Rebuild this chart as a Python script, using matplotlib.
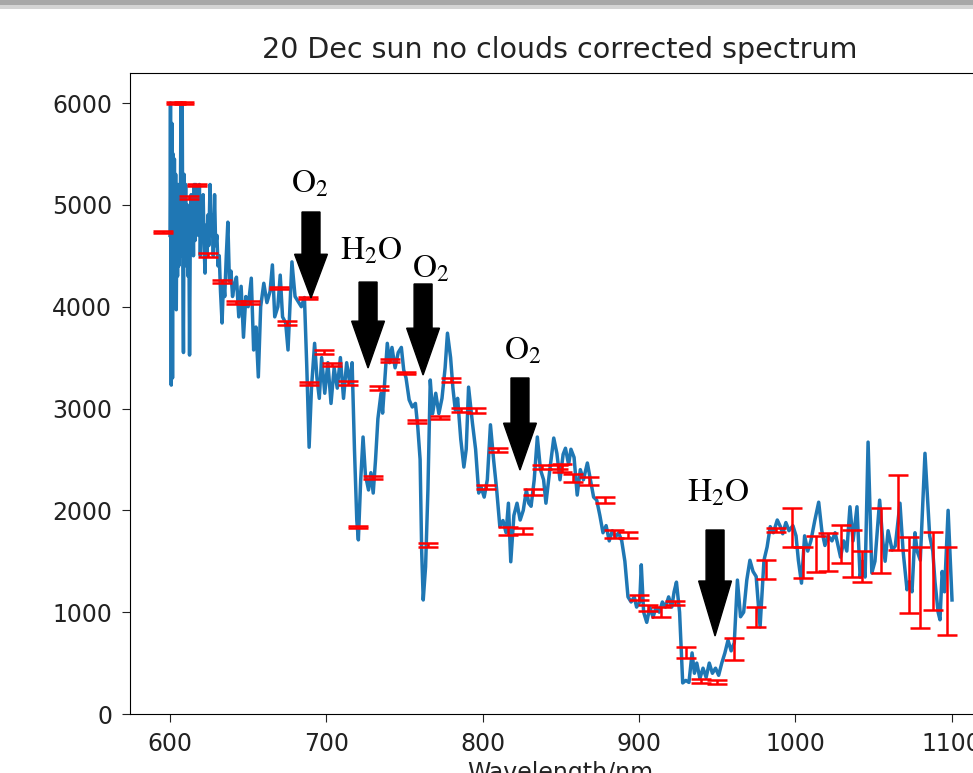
import matplotlib
matplotlib.use('Agg')
import matplotlib.pyplot as plt
from matplotlib.patches import Rectangle

plt.rcParams['mathtext.fontset'] = 'stix'

# ---- spectrum (wavelength in nm, corrected intensity) ----
wavelength = [
    600.0, 600.3, 600.8, 601.2, 601.6, 602.0, 602.4, 602.8, 603.2, 603.6, 604.0, 604.4,
    604.8, 605.2, 605.6, 606.0, 606.5, 607.0, 607.4, 607.8, 608.2, 608.6, 609.0, 609.5,
    610.0, 610.5, 611.0, 611.5, 612.0, 612.5, 613.0, 613.5, 614.0, 614.5, 615.0, 615.5,
    616.0, 616.5, 617.0, 617.6, 618.2, 618.8, 619.4, 620.0, 620.6, 621.2, 621.8, 622.4,
    623.0, 623.6, 624.2, 624.8, 625.6, 626.3, 627.0, 627.7, 628.5, 629.2, 630.0, 630.7,
    631.5, 632.3, 633.3, 634.2, 635.0, 636.0, 637.0, 638.0, 639.0, 640.0, 641.0, 642.5,
    644.0, 645.5, 647.0, 648.5, 650.0, 652.0, 653.5, 655.0, 656.5, 658.0, 660.0, 662.0,
    664.0, 665.5, 667.0, 669.0, 670.5, 672.0, 674.0, 675.5, 677.0, 678.0, 680.0, 682.0,
    684.0, 686.0, 687.5, 689.0, 690.5, 692.5, 694.0, 695.5, 697.0, 699.0, 701.0, 703.0,
    705.0, 707.0, 709.0, 711.0, 713.0, 715.0, 716.5, 718.0, 719.5, 720.5, 722.0, 723.5,
    725.0, 727.0, 728.5, 730.0, 731.5, 733.0, 735.0, 736.0, 737.5, 739.0, 740.5, 742.0,
    744.0, 746.0, 748.0, 749.5, 751.0, 753.0, 755.0, 757.0, 758.5, 760.0, 761.0, 762.0,
    763.5, 765.0, 766.5, 768.0, 770.0, 772.0, 774.0, 776.0, 777.5, 779.5, 781.0, 782.5,
    784.0, 786.0, 788.0, 789.5, 791.0, 793.5, 795.5, 797.5, 799.0, 801.0, 803.0, 805.0,
    807.0, 809.0, 811.0, 813.0, 815.0, 816.5, 818.0, 820.0, 822.0, 824.0, 826.0, 828.0,
    829.5, 831.0, 833.0, 835.0, 837.0, 839.0, 840.5, 843.0, 845.5, 847.5, 849.5, 851.5,
    853.0, 855.0, 856.5, 858.5, 860.5, 862.5, 864.5, 867.0, 869.0, 871.0, 873.0, 875.0,
    877.0, 879.0, 881.0, 883.0, 885.0, 887.0, 889.0, 891.0, 893.0, 895.0, 897.0, 898.5,
    900.5, 901.5, 903.0, 905.0, 907.0, 909.0, 911.0, 913.0, 915.0, 917.0, 919.0, 921.0,
    922.5, 924.0, 926.0, 928.0, 930.0, 932.0, 934.0, 935.5, 937.0, 939.0, 941.0, 943.0,
    945.0, 947.0, 949.0, 951.0, 953.0, 955.0, 957.0, 959.0, 961.0, 963.0, 965.0, 967.0,
    969.0, 971.0, 973.0, 975.0, 977.5, 980.0, 982.0, 984.0, 986.0, 988.5, 990.5, 992.0,
    994.0, 996.0, 998.5, 1000.5, 1002.0, 1004.0, 1006.0, 1008.0, 1010.0, 1012.5, 1015.0,
    1017.0, 1019.0, 1021.0, 1023.5, 1025.5, 1027.0, 1029.0, 1031.0, 1033.0, 1035.0, 1037.0,
    1039.5, 1041.5, 1043.0, 1044.7, 1046.6, 1049.0, 1051.0, 1054.0, 1056.0, 1057.5, 1059.4,
    1062.0, 1064.0, 1067.0, 1069.0, 1071.5, 1073.0, 1074.7, 1076.6, 1078.0, 1080.0, 1083.0,
    1086.0, 1088.0, 1089.4, 1091.4, 1092.6, 1094.0, 1095.5, 1097.8, 1100.3,
]
intensity = [
    4700, 6000, 3230, 5800, 3300, 5500, 4000, 5450, 4200, 5300, 3970, 5000,
    4300, 5200, 4400, 5100, 4600, 6000, 4500, 6000, 4400, 3550, 5300, 4700,
    5200, 4400, 5000, 4300, 4900, 3525, 4800, 5100, 4600, 5000, 4500, 5200,
    4650, 5200, 4800, 5150, 4700, 5200, 4500, 5000, 4700, 5100, 4600, 4330,
    4800, 4500, 4900, 4600, 5200, 4700, 4900, 4500, 5100, 4600, 4700, 4400,
    4500, 4150, 3840, 4250, 4100, 4500, 4830, 4250, 4350, 4100, 4200, 4290,
    3900, 4200, 3700, 4100, 4000, 4280, 3575, 3800, 3310, 4000, 4230, 4040,
    4150, 4410, 3900, 4000, 4310, 3900, 3840, 3575, 4100, 4440, 4100, 4050,
    4000, 4090, 3410, 2620, 3200, 3640, 3300, 3100, 3500, 3150, 3450, 3050,
    3400, 3200, 3500, 3100, 3450, 3250, 3450, 2600, 1900, 1710, 2300, 2720,
    2350, 2200, 2370, 2170, 2500, 2900, 3150, 2955, 3300, 3640, 3450, 3600,
    3400, 3550, 3600, 3380, 3300, 3085, 3015, 3050, 2820, 2500, 1600, 1120,
    1445, 2200, 3280, 2950, 3150, 2950, 3100, 3400, 3740, 3500, 3200, 2985,
    3100, 2700, 2425, 2600, 3210, 2855, 2600, 2170, 2230, 2130, 2300, 2840,
    2500, 2200, 1840, 1900, 1780, 2070, 1495, 1950, 2070, 1905, 2000, 2200,
    2070, 2040, 2300, 2720, 2400, 2300, 2070, 2400, 2710, 2560, 2300, 2550,
    2610, 2450, 2600, 2520, 2150, 2400, 2300, 2465, 2300, 2130, 2100, 1950,
    1780, 1850, 1700, 1800, 1740, 1780, 1700, 1500, 1150, 1100, 1150, 1050,
    1100, 1465, 1000, 900, 1050, 950, 1050, 1000, 1100, 1050, 1150, 1050,
    1200, 1295, 1000, 305, 330, 310, 600, 400, 500, 350, 450, 360,
    500, 400, 450, 380, 500, 600, 725, 620, 700, 1315, 955, 1000,
    1315, 1510, 1400, 1350, 855, 1510, 1640, 1840, 1780, 1905, 1840, 1770,
    1880, 1800, 1850, 1750, 1510, 1285, 1750, 1600, 1700, 1900, 2080,
    1800, 1655, 1750, 1700, 1780, 1680, 1540, 1700, 1600, 2035, 1700,
    2035, 1345, 1500, 1345, 2670, 1385, 1500, 2100, 1700, 1500, 1800,
    1610, 1650, 2070, 1600, 1220, 1300, 1200, 1780, 1600, 1510, 2560,
    1750, 1600, 1300, 1000, 925, 1400, 1200, 2000, 1120,
]

# ---- binned means with error bars ----
err_x = [595.5, 604, 609, 612, 617, 624, 633, 642, 651, 670, 675, 688, 689,
         698.5, 703.6, 714, 720, 730, 734, 741, 751, 758, 765, 773, 780, 786,
         796, 802, 810, 816, 826, 832, 838, 848, 851, 858, 868, 878, 884, 893,
         900, 906, 914, 923, 930, 940, 950, 961, 975, 981, 988, 998, 1005, 1013,
         1021, 1029, 1036, 1043, 1055, 1066, 1073, 1080, 1088, 1097]
err_y = [4730, 6000, 6000, 5070, 5195, 4510, 4250, 4045, 4045, 4180, 3840, 4085, 3250,
         3555, 3430, 3250, 1840, 2320, 3200, 3475, 3350, 2870, 1660, 2915, 3280, 2985,
         2985, 2230, 2590, 1800, 1800, 2180, 2430, 2430, 2420, 2320, 2290, 2100, 1770, 1760,
         1140, 1040, 1000, 1090, 605, 320, 310, 640, 950, 1420, 1810, 1830, 1490, 1570,
         1590, 1670, 1575, 1450, 1700, 1980, 1365, 1240, 1405, 1210]
err_size = [10, 10, 10, 15, 10, 20, 15, 15, 15, 10, 15, 10, 15,
            20, 15, 20, 10, 15, 20, 15, 10, 15, 20, 15, 20, 20,
            25, 20, 20, 40, 30, 30, 20, 20, 40, 40, 40, 30, 40, 30,
            25, 30, 50, 20, 55, 20, 20, 105, 100, 90, 20, 190, 150, 175,
            190, 190, 230, 150, 320, 370, 375, 400, 385, 430]

# ---- annotations ----
labels = [r'$\mathrm{O}_2$', r'$\mathrm{H}_2\mathrm{O}$', r'$\mathrm{O}_2$',
          r'$\mathrm{O}_2$', r'$\mathrm{H}_2\mathrm{O}$']
label_x = [689.6, 728.6, 767.0, 825.8, 950.6]
label_y = [5214, 4556, 4380, 3574, 2180]
arrow_x = [690.2, 726.7, 761.9, 823.9, 948.7]
arrow_top = [4930, 4242, 4223, 3300, 1807]
arrow_tip = [4085, 3398, 3329, 2396, 766]
arrow_head = [430, 460, 460, 460, 540]

xticks = [600, 700, 800, 900, 1000, 1100]
yticks = [0, 1000, 2000, 3000, 4000, 5000, 6000]

fig = plt.figure(figsize=(9.73, 7.73), dpi=100)
ax = fig.add_axes([130 / 973, 59 / 773, 860 / 973, 641 / 773])

ax.plot(wavelength, intensity, color='#1f77b4', lw=2.5)
ax.errorbar(err_x, err_y, yerr=err_size, fmt='none', ecolor='red',
            elinewidth=1.8, capsize=7, capthick=1.8)

for x, top, tip, hl in zip(arrow_x, arrow_top, arrow_tip, arrow_head):
    ax.arrow(x, top, 0, tip - top, width=11.5, head_width=21, head_length=hl,
             length_includes_head=True, color='black', zorder=5)
for t, x, y in zip(labels, label_x, label_y):
    ax.text(x, y, t, ha='center', va='center', fontsize=24, zorder=6)

ax.set_xlim(574.4, 1124.6)
ax.set_ylim(0, 6295)
ax.set_xticks(xticks)
ax.set_yticks(yticks)
ax.tick_params(labelsize=17, length=5.8, pad=7, colors='#222222')
ax.set_title('20 Dec sun no clouds corrected spectrum', fontsize=20.5, pad=11,
             color='#222222')
ax.set_xlabel('Wavelength/nm', fontsize=17, labelpad=4, color='#222222')

fig.add_artist(Rectangle((0, 1 - 5 / 773), 1, 5 / 773, transform=fig.transFigure,
                         color='#a8a8a8', lw=0))
fig.add_artist(Rectangle((0, 1 - 9 / 773), 1, 4 / 773, transform=fig.transFigure,
                         color='#d4d4d4', lw=0))

fig.savefig('out.png', dpi=100)
